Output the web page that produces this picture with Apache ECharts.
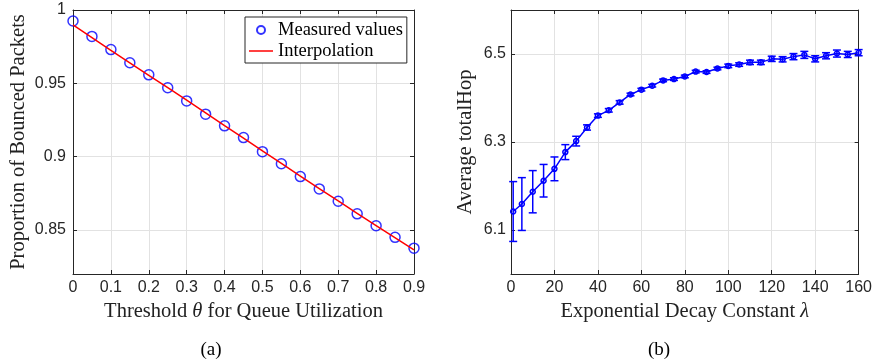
<!DOCTYPE html>
<html>
<head>
<meta charset="utf-8">
<script src="https://cdn.jsdelivr.net/npm/echarts@6/dist/echarts.min.js"></script>
<style>
  html, body { margin: 0; padding: 0; background: #fff; }
  #chart { width: 875px; height: 364px; }
</style>
</head>
<body>
<div id="chart"></div>
<script>
// (a) proportion of bounced packets vs threshold
const thetaValues = [0, 0.05, 0.1, 0.15, 0.2, 0.25, 0.3, 0.35, 0.4, 0.45, 0.5, 0.55, 0.6, 0.65, 0.7, 0.75, 0.8, 0.85, 0.9];
const bouncedMeasured = [0.9925, 0.982, 0.973, 0.964, 0.9558, 0.947, 0.938, 0.929, 0.921, 0.913, 0.9034, 0.8952, 0.8864, 0.878, 0.8696, 0.861, 0.8529, 0.845, 0.8376];
const interpTheta = [0, 0.1, 0.2, 0.3, 0.4, 0.5, 0.6, 0.7, 0.8, 0.9];
const interpValues = [0.9898, 0.9725, 0.9555, 0.9385, 0.9212, 0.904, 0.8868, 0.8698, 0.853, 0.8365];
const yTicksA = [0.85, 0.9, 0.95, 1];

// (b) average totalHop vs decay constant
const lambdaValues = [1, 5, 10, 15, 20, 25, 30, 35, 40, 45, 50, 55, 60, 65, 70, 75, 80, 85, 90, 95, 100, 105, 110, 115, 120, 125, 130, 135, 140, 145, 150, 155, 160];
const hopMean = [6.142, 6.159, 6.187, 6.212, 6.239, 6.277, 6.302, 6.333, 6.360, 6.372, 6.390, 6.408, 6.419, 6.428, 6.440, 6.443, 6.449, 6.460, 6.459, 6.467, 6.473, 6.476, 6.481, 6.481, 6.489, 6.488, 6.494, 6.498, 6.489, 6.496, 6.501, 6.499, 6.503];
const hopErr = [0.068, 0.060, 0.048, 0.037, 0.027, 0.017, 0.011, 0.006, 0.004, 0.004, 0.004, 0.003, 0.003, 0.003, 0.003, 0.003, 0.003, 0.003, 0.003, 0.003, 0.004, 0.004, 0.005, 0.005, 0.006, 0.006, 0.007, 0.008, 0.007, 0.007, 0.008, 0.007, 0.007];
const yTicksB = [6.1, 6.3, 6.5];

const axisColor = '#262626';
const gridColor = '#e2e2e2';
const blue = '#0000ff';
const serif = '"Liberation Serif", "DejaVu Serif", serif';
const sans = '"Liberation Sans", Arial, sans-serif';

const chart = echarts.init(document.getElementById('chart'));

function xAxisCfg(gridIndex, min, max, interval, name, top) {
  return {
    type: 'value', gridIndex, min, max, interval,
    position: top ? 'top' : 'bottom',
    axisLine: { show: true, onZero: false, lineStyle: { color: axisColor, width: 1 } },
    axisTick: { show: true, inside: true, length: 4, lineStyle: { color: axisColor } },
    axisLabel: { show: !top, color: axisColor, fontFamily: sans, fontSize: 16, margin: 6 },
    splitLine: { show: !top, lineStyle: { color: gridColor } },
    name: top ? '' : name,
    nameLocation: 'middle',
    nameGap: 24,
    nameTextStyle: {
      color: '#222', fontFamily: serif, fontSize: 20.5,
      rich: { i: { fontFamily: serif, fontSize: 20.5, fontStyle: 'italic', color: '#222' } }
    }
  };
}

function yAxisCfg(gridIndex, min, max, ticks, name, right, margin, gap) {
  return {
    type: 'value', gridIndex, min, max,
    position: right ? 'right' : 'left',
    axisLine: { show: true, onZero: false, lineStyle: { color: axisColor, width: 1 } },
    axisTick: { show: true, inside: true, length: 4, customValues: ticks, lineStyle: { color: axisColor } },
    axisLabel: { show: !right, customValues: ticks, color: axisColor, fontFamily: sans, fontSize: 16, margin },
    splitLine: { show: !right, customValues: ticks, lineStyle: { color: gridColor } },
    name: right ? '' : name,
    nameLocation: 'middle',
    nameGap: gap,
    nameTextStyle: { color: '#222', fontFamily: serif, fontSize: 20.5 }
  };
}

chart.setOption({
  animation: false,
  backgroundColor: '#fff',
  grid: [
    { left: 73, top: 10, width: 341, height: 264 },
    { left: 511, top: 10, width: 348, height: 264 }
  ],
  xAxis: [
    xAxisCfg(0, 0, 0.9, 0.1, 'Threshold {i|θ} for Queue Utilization', false),
    xAxisCfg(0, 0, 0.9, 0.1, '', true),
    xAxisCfg(1, 0, 160, 20, 'Exponential Decay Constant {i|λ}', false),
    xAxisCfg(1, 0, 160, 20, '', true)
  ],
  yAxis: [
    yAxisCfg(0, 0.82, 1, yTicksA, 'Proportion of Bounced Packets', false, 7, 44),
    yAxisCfg(0, 0.82, 1, yTicksA, '', true, 7, 0),
    yAxisCfg(1, 6.0, 6.6, yTicksB, 'Average totalHop', false, 5, 35),
    yAxisCfg(1, 6.0, 6.6, yTicksB, '', true, 5, 0)
  ],
  legend: {
    left: 245, top: 17,
    orient: 'vertical',
    backgroundColor: '#fff',
    borderColor: axisColor,
    borderWidth: 1,
    borderRadius: 0,
    padding: [3, 4, 2, 4],
    itemGap: 1,
    itemWidth: 24,
    itemHeight: 8,
    textStyle: { color: '#000', fontFamily: serif, fontSize: 18.5, lineHeight: 20 },
    data: [
      { name: 'Measured values', icon: 'circle' },
      { name: 'Interpolation', icon: 'path://M0,0H24V1.5H0Z' }
    ]
  },
  graphic: [
    { type: 'text', x: 211, y: 350, style: { text: '(a)', fill: '#000', font: '19px ' + serif, align: 'center', verticalAlign: 'middle' } },
    { type: 'text', x: 659, y: 350, style: { text: '(b)', fill: '#000', font: '19px ' + serif, align: 'center', verticalAlign: 'middle' } }
  ],
  series: [
    {
      name: 'Measured values',
      type: 'scatter',
      xAxisIndex: 0, yAxisIndex: 0,
      symbol: 'circle',
      symbolSize: 10,
      itemStyle: { color: 'rgba(255,255,255,0)', borderColor: blue, borderWidth: 1.5 },
      data: thetaValues.map((t, i) => [t, bouncedMeasured[i]])
    },
    {
      name: 'Interpolation',
      type: 'line',
      xAxisIndex: 0, yAxisIndex: 0,
      symbol: 'none',
      smooth: true,
      color: '#ff0000',
      lineStyle: { color: '#ff0000', width: 1.5 },
      data: interpTheta.map((t, i) => [t, interpValues[i]])
    },
    {
      type: 'custom',
      xAxisIndex: 2, yAxisIndex: 2,
      renderItem(params, api) {
        const x = api.value(0);
        const hi = api.coord([x, api.value(2)]);
        const lo = api.coord([x, api.value(1)]);
        const cap = 4;
        const st = { stroke: blue, lineWidth: 1.5 };
        return {
          type: 'group',
          children: [
            { type: 'line', shape: { x1: hi[0], y1: hi[1], x2: lo[0], y2: lo[1] }, style: st },
            { type: 'line', shape: { x1: hi[0] - cap, y1: hi[1], x2: hi[0] + cap, y2: hi[1] }, style: st },
            { type: 'line', shape: { x1: lo[0] - cap, y1: lo[1], x2: lo[0] + cap, y2: lo[1] }, style: st }
          ]
        };
      },
      data: lambdaValues.map((l, i) => [l, hopMean[i] - hopErr[i], hopMean[i] + hopErr[i]]),
      z: 3
    },
    {
      type: 'line',
      xAxisIndex: 2, yAxisIndex: 2,
      symbol: 'circle',
      symbolSize: 5,
      showAllSymbol: true,
      lineStyle: { color: blue, width: 1.5 },
      itemStyle: { color: 'rgba(255,255,255,0)', borderColor: blue, borderWidth: 1.5 },
      data: lambdaValues.map((l, i) => [l, hopMean[i]]),
      z: 4
    }
  ]
});
</script>
</body>
</html>
